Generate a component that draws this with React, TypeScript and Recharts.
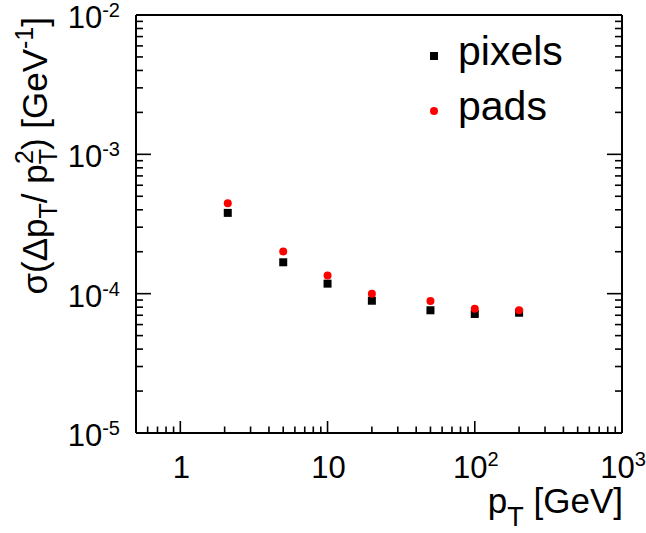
import React from "react";
import { ScatterChart, Scatter, XAxis, YAxis, Legend } from "recharts";

// transverse momentum points [GeV]
const pT = [2.1, 5, 10, 20, 50, 100, 200];
// sigma(dpT / pT^2) [1/GeV]
const pixelsSigma = [3.8e-4, 1.68e-4, 1.18e-4, 8.9e-5, 7.6e-5, 7.15e-5, 7.3e-5];
const padsSigma = [4.45e-4, 2.01e-4, 1.35e-4, 1.0e-4, 8.85e-5, 7.8e-5, 7.6e-5];

const seriesNames = ["pixels", "pads"];
const seriesColors = ["#000000", "#ff0000"];

const xMajor = [1, 10, 100, 1000];
const xMajorBase = ["1", "10", "10", "10"];
const xMajorExp = ["", "", "2", "3"];
const yMajor = [1e-5, 1e-4, 1e-3, 1e-2];
const yMajorExp = ["-5", "-4", "-3", "-2"];

const X_DOMAIN: [number, number] = [0.5, 1000];
const Y_DOMAIN: [number, number] = [1e-5, 1e-2];

const logTicks = (decades: number[], lo: number, hi: number) =>
  decades
    .flatMap((d) => [1, 2, 3, 4, 5, 6, 7, 8, 9].map((m) => m * d))
    .concat([hi])
    .filter((v) => v >= lo * 0.999 && v <= hi * 1.001);

const xTicks = logTicks([0.1, 1, 10, 100], X_DOMAIN[0], X_DOMAIN[1]);
const yTicks = logTicks([1e-5, 1e-4, 1e-3], Y_DOMAIN[0], Y_DOMAIN[1]);

const isMajor = (v: number) => {
  const l = Math.log10(v);
  return Math.abs(l - Math.round(l)) < 1e-6;
};
const majorIndex = (list: number[], v: number) =>
  list.findIndex((m) => Math.abs(Math.log10(m) - Math.log10(v)) < 1e-6);

const FONT = "'Liberation Sans', Arial, Helvetica, sans-serif";
const TICK_W = 1.6;
const X_MAJOR = 12;
const X_MINOR = 6.5;
const Y_MAJOR = 15;
const Y_MINOR = 7;
const LABEL_SIZE = 31;
const SUP_SIZE = 20;
const TITLE_SIZE = 35;
const SUB_SIZE = 25;

const pixelsData = pT.map((x, i) => ({ pt: x, sigma: pixelsSigma[i] }));
const padsData = pT.map((x, i) => ({ pt: x, sigma: padsSigma[i] }));

function BottomTick(props: any) {
  const { x, y, payload } = props;
  const v = payload.value;
  const major = isMajor(v);
  const idx = majorIndex(xMajor, v);
  return (
    <g>
      <line x1={x} x2={x} y1={y} y2={y - (major ? X_MAJOR : X_MINOR)} stroke="#000" strokeWidth={TICK_W} />
      {idx >= 0 && (
        <text x={x + 1} y={y + 45} textAnchor="middle" fontSize={LABEL_SIZE} fontFamily={FONT} fill="#000">
          {xMajorBase[idx]}
          {xMajorExp[idx] && (
            <tspan fontSize={SUP_SIZE} dy={-12}>
              {xMajorExp[idx]}
            </tspan>
          )}
        </text>
      )}
    </g>
  );
}

function TopTick(props: any) {
  const { x, y, payload } = props;
  const major = isMajor(payload.value);
  return <line x1={x} x2={x} y1={y} y2={y + (major ? X_MAJOR : X_MINOR)} stroke="#000" strokeWidth={TICK_W} />;
}

function LeftTick(props: any) {
  const { x, y, payload } = props;
  const v = payload.value;
  const major = isMajor(v);
  const idx = majorIndex(yMajor, v);
  return (
    <g>
      <line x1={x} x2={x + (major ? Y_MAJOR : Y_MINOR)} y1={y} y2={y} stroke="#000" strokeWidth={TICK_W} />
      {idx >= 0 && (
        <text x={x - 16} y={y + 13} textAnchor="end" fontSize={LABEL_SIZE} fontFamily={FONT} fill="#000">
          10
          <tspan fontSize={SUP_SIZE} dy={-11}>
            {yMajorExp[idx]}
          </tspan>
        </text>
      )}
    </g>
  );
}

function RightTick(props: any) {
  const { x, y, payload } = props;
  const major = isMajor(payload.value);
  return <line x1={x} x2={x - (major ? Y_MAJOR : Y_MINOR)} y1={y} y2={y} stroke="#000" strokeWidth={TICK_W} />;
}

function XTitle(props: any) {
  const { viewBox } = props;
  const right = viewBox.x + viewBox.width;
  return (
    <text x={right + 1} y={viewBox.y + 80} textAnchor="end" fontSize={TITLE_SIZE} fontFamily={FONT} fill="#000">
      p
      <tspan fontSize={27} dy={13}>T</tspan>
      <tspan dy={-13}>{" [GeV]"}</tspan>
    </text>
  );
}

function YTitle(props: any) {
  const { viewBox } = props;
  const bx = viewBox.x + viewBox.width - 89;
  const by = viewBox.y + 2;
  return (
    <text
      x={bx}
      y={by}
      transform={`rotate(-90 ${bx} ${by})`}
      textAnchor="end"
      fontSize={TITLE_SIZE}
      fontFamily={FONT}
      fill="#000"
    >
      σ(Δp
      <tspan fontSize={SUB_SIZE} dy={10}>T</tspan>
      <tspan dy={-10}>{"/ p"}</tspan>
      <tspan fontSize={SUB_SIZE} dy={10}>T</tspan>
      <tspan fontSize={SUB_SIZE} dx={-15} dy={-24}>2</tspan>
      <tspan dy={14}>{") [GeV"}</tspan>
      <tspan fontSize={SUB_SIZE} dy={-14}>-1</tspan>
      <tspan dy={14}>]</tspan>
    </text>
  );
}

const SquareDot = (props: any) => {
  const { cx, cy } = props;
  return <rect x={cx - 4} y={cy - 4} width={8} height={8} fill={seriesColors[0]} />;
};

const RoundDot = (props: any) => {
  const { cx, cy } = props;
  return <circle cx={cx} cy={cy} r={4} fill={seriesColors[1]} />;
};

function LegendBox() {
  return (
    <div style={{ fontFamily: FONT, fontSize: 41, color: "#000", position: "relative", width: 200 }}>
      {seriesNames.map((name, i) => (
        <div key={name} style={{ position: "relative", height: 55, lineHeight: "55px" }}>
          <svg width={10} height={10} style={{ position: "absolute", left: 9, top: 27 }}>
            {i === 0 ? (
              <rect x={1} y={1} width={8} height={8} fill={seriesColors[0]} />
            ) : (
              <circle cx={5} cy={5} r={4} fill={seriesColors[1]} />
            )}
          </svg>
          <span style={{ position: "absolute", left: 38, top: 0, whiteSpace: "nowrap" }}>{name}</span>
        </div>
      ))}
    </div>
  );
}

const axisLine = { stroke: "#000", strokeWidth: 2 };

export default function App() {
  return (
    <div style={{ position: "fixed", left: 0, top: 0, width: 646, height: 533, background: "#fff", fontFamily: FONT }}>
      <ScatterChart width={646} height={533} margin={{ top: 14, right: 23, bottom: 99, left: 135 }}>
        <XAxis
          xAxisId={0}
          dataKey="pt"
          type="number"
          scale="log"
          domain={X_DOMAIN}
          allowDataOverflow
          ticks={xTicks}
          interval={0}
          height={1}
          tickSize={0}
          tickMargin={0}
          tickLine={false}
          axisLine={axisLine}
          tick={(p: any) => <BottomTick {...p} />}
          label={{ content: (p: any) => <XTitle {...p} /> }}
        />
        <XAxis
          xAxisId="top"
          orientation="top"
          type="number"
          scale="log"
          domain={X_DOMAIN}
          allowDataOverflow
          ticks={xTicks}
          interval={0}
          height={1}
          tickSize={0}
          tickMargin={0}
          tickLine={false}
          axisLine={axisLine}
          tick={(p: any) => <TopTick {...p} />}
        />
        <YAxis
          yAxisId={0}
          dataKey="sigma"
          type="number"
          scale="log"
          domain={Y_DOMAIN}
          allowDataOverflow
          ticks={yTicks}
          interval={0}
          width={1}
          tickSize={0}
          tickMargin={0}
          tickLine={false}
          axisLine={axisLine}
          tick={(p: any) => <LeftTick {...p} />}
          label={{ content: (p: any) => <YTitle {...p} /> }}
        />
        <YAxis
          yAxisId="right"
          orientation="right"
          type="number"
          scale="log"
          domain={Y_DOMAIN}
          allowDataOverflow
          ticks={yTicks}
          interval={0}
          width={1}
          tickSize={0}
          tickMargin={0}
          tickLine={false}
          axisLine={axisLine}
          tick={(p: any) => <RightTick {...p} />}
        />
        <Legend
          layout="horizontal"
          verticalAlign="middle"
          align="center"
          wrapperStyle={{ left: 420, top: 24, width: 200 }}
          content={() => <LegendBox />}
        />
        <Scatter name={seriesNames[0]} data={pixelsData} shape={SquareDot} isAnimationActive={false} />
        <Scatter name={seriesNames[1]} data={padsData} shape={RoundDot} isAnimationActive={false} />
      </ScatterChart>
    </div>
  );
}
